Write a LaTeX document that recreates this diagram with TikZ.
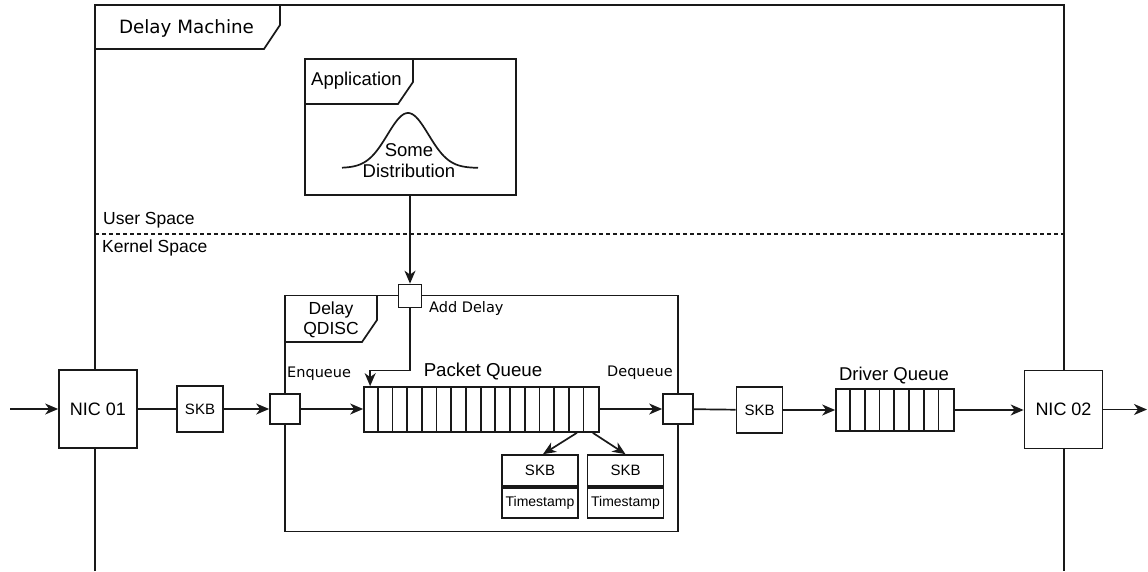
\documentclass[tikz,border=0pt]{standalone}
\usepackage{fontspec}
\setmainfont{Liberation Sans}
\newfontfamily\vfont{DejaVu Sans}
\usetikzlibrary{arrows.meta,calc}
\tikzset{
  line/.style={line width=1.7pt,draw=black!90},
  arr/.style={line, -{Stealth[length=13pt,width=11pt,inset=4pt]}},
  box/.style={line, fill=white, rectangle, inner sep=0pt, font=\fontsize{18}{21}\selectfont},
  smallbox/.style={box, minimum size=30pt},
  skbbox/.style={box, minimum size=46pt, font=\fontsize{15}{18}\selectfont},
  nicbox/.style={box, minimum size=78pt},
  cellbox/.style={box, minimum width=76pt, inner sep=0pt},
  lbl/.style={inner sep=0pt, font=\fontsize{17.5}{20}\selectfont},
  vlbl/.style={inner sep=0pt, font=\vfont\fontsize{14.5}{17}\selectfont},
}
\begin{document}
\begin{tikzpicture}[x=1pt,y=-1pt]
\useasboundingbox (0,0) rectangle (1148,571);

% Delay Machine frame, open at the bottom
\draw[line] (95,571) -- (95,5) -- (1064,5) -- (1064,571);
\draw[line] (95,49) -- (264,49) -- (280,25) -- (280,5);
\node[inner sep=0pt, font=\vfont\fontsize{18.3}{21}\selectfont] (dmlbl) at (186.5,28) {Delay Machine};

% user / kernel boundary
\draw[line, line width=1.2pt, dash pattern=on 4pt off 3pt] (95,234) -- (1064,234);
\node[lbl, anchor=west] (ulbl) at (103,220) {User Space};
\node[lbl, anchor=west] (klbl) at (102,248) {Kernel Space};

% application
\node[box, minimum width=211pt, minimum height=136pt] (app) at (410.5,127) {};
\draw[line] (305,104) -- (398,104) -- (413,82) -- (413,59);
\node[lbl, anchor=west, font=\fontsize{18.5}{21}\selectfont] (applbl) at (311,81) {Application};
\draw[line] plot[domain=-66:70, samples=80, smooth] ({408+\x},{168-55*exp(-(\x/29)^2)});
\node[lbl, font=\fontsize{18.5}{21}\selectfont] (some) at (409,150) {Some};
\node[lbl, font=\fontsize{18.5}{21}\selectfont] (distr) at (409,171) {Distribution};

% qdisc
\node[box, fill=none, minimum width=393pt, minimum height=236pt] (qdisc) at (481.5,413.5) {};
\draw[line] (285,342) -- (362,342) -- (377,320) -- (377,295);
\node[lbl, align=center, font=\fontsize{17.5}{20.5}\selectfont] (qlbl) at (331,320) {Delay\\QDISC};

\node[box, minimum size=23pt] (adel) at (410,296) {};
\node[vlbl, anchor=west] (adellbl) at (429,308) {Add Delay};

\node[smallbox] (enq) at (285,409) {};
\node[vlbl, anchor=west] (enqlbl) at (287,374) {Enqueue};
\node[smallbox] (deq) at (678,409) {};
\node[vlbl, anchor=west] (deqlbl) at (607,373) {Dequeue};

% packet queue
\node[box, minimum width=235pt, minimum height=45pt] (pq) at (481.5,409.5) {};
\foreach \i in {1,...,15} \draw[line] ($(pq.north west)+(\i*14.6875,0)$) -- ($(pq.south west)+(\i*14.6875,0)$);
\node[lbl, font=\fontsize{18.7}{21}\selectfont] (pqlbl) at (483,371) {Packet Queue};

% skb with timestamp
\node[cellbox, minimum height=31pt, font=\fontsize{15}{18}\selectfont] (s1) at (540,470.5) {SKB};
\node[cellbox, minimum height=30pt, font=\fontsize{14}{17}\selectfont, anchor=north] (t1) at (s1.south) {Timestamp};
\node[cellbox, minimum height=31pt, font=\fontsize{15}{18}\selectfont] (s2) at (625.5,470.5) {SKB};
\node[cellbox, minimum height=30pt, font=\fontsize{14}{17}\selectfont, anchor=north] (t2) at (s2.south) {Timestamp};

% nics, skbs, driver queue
\node[nicbox] (nic1) at (98,409) {NIC 01};
\node[nicbox] (nic2) at (1063.5,409.5) {NIC 02};
\node[skbbox] (skb1) at (200,409) {SKB};
\node[skbbox] (skb2) at (759.5,410) {SKB};
\node[box, minimum width=118pt, minimum height=42pt] (dq) at (895,410) {};
\foreach \i in {1,...,7} \draw[line] ($(dq.north west)+(\i*14.75,0)$) -- ($(dq.south west)+(\i*14.75,0)$);
\node[lbl, font=\fontsize{18.5}{21}\selectfont] (dqlbl) at (894,376) {Driver Queue};

\coordinate (in) at (10,409);
\coordinate (out) at (1147,409.5);

% connectors
\draw[arr] (in) -- (nic1);
\draw[line] (nic1) -- (skb1);
\draw[arr] (skb1) -- (enq);
\draw[arr] (enq) -- (enq -| pq.west);
\draw[arr] (pq.east |- deq) -- (deq);
\draw[line] (deq) -- (skb2);
\draw[arr] (skb2) -- (dq);
\draw[arr] (dq.east) -- (nic2.west |- dq.east);
\draw[arr] (nic2) -- (out);
\draw[arr] (app.south -| adel) -- (adel.north);
\draw[arr] (adel.south) -- ++(0,62) -| ([xshift=7pt]pq.north west);
\draw[arr] ([xshift=-23pt]pq.south east) -- ([xshift=3pt]s1.north);
\draw[arr] ([xshift=-7pt]pq.south east) -- (s2.north);
\end{tikzpicture}
\end{document}
